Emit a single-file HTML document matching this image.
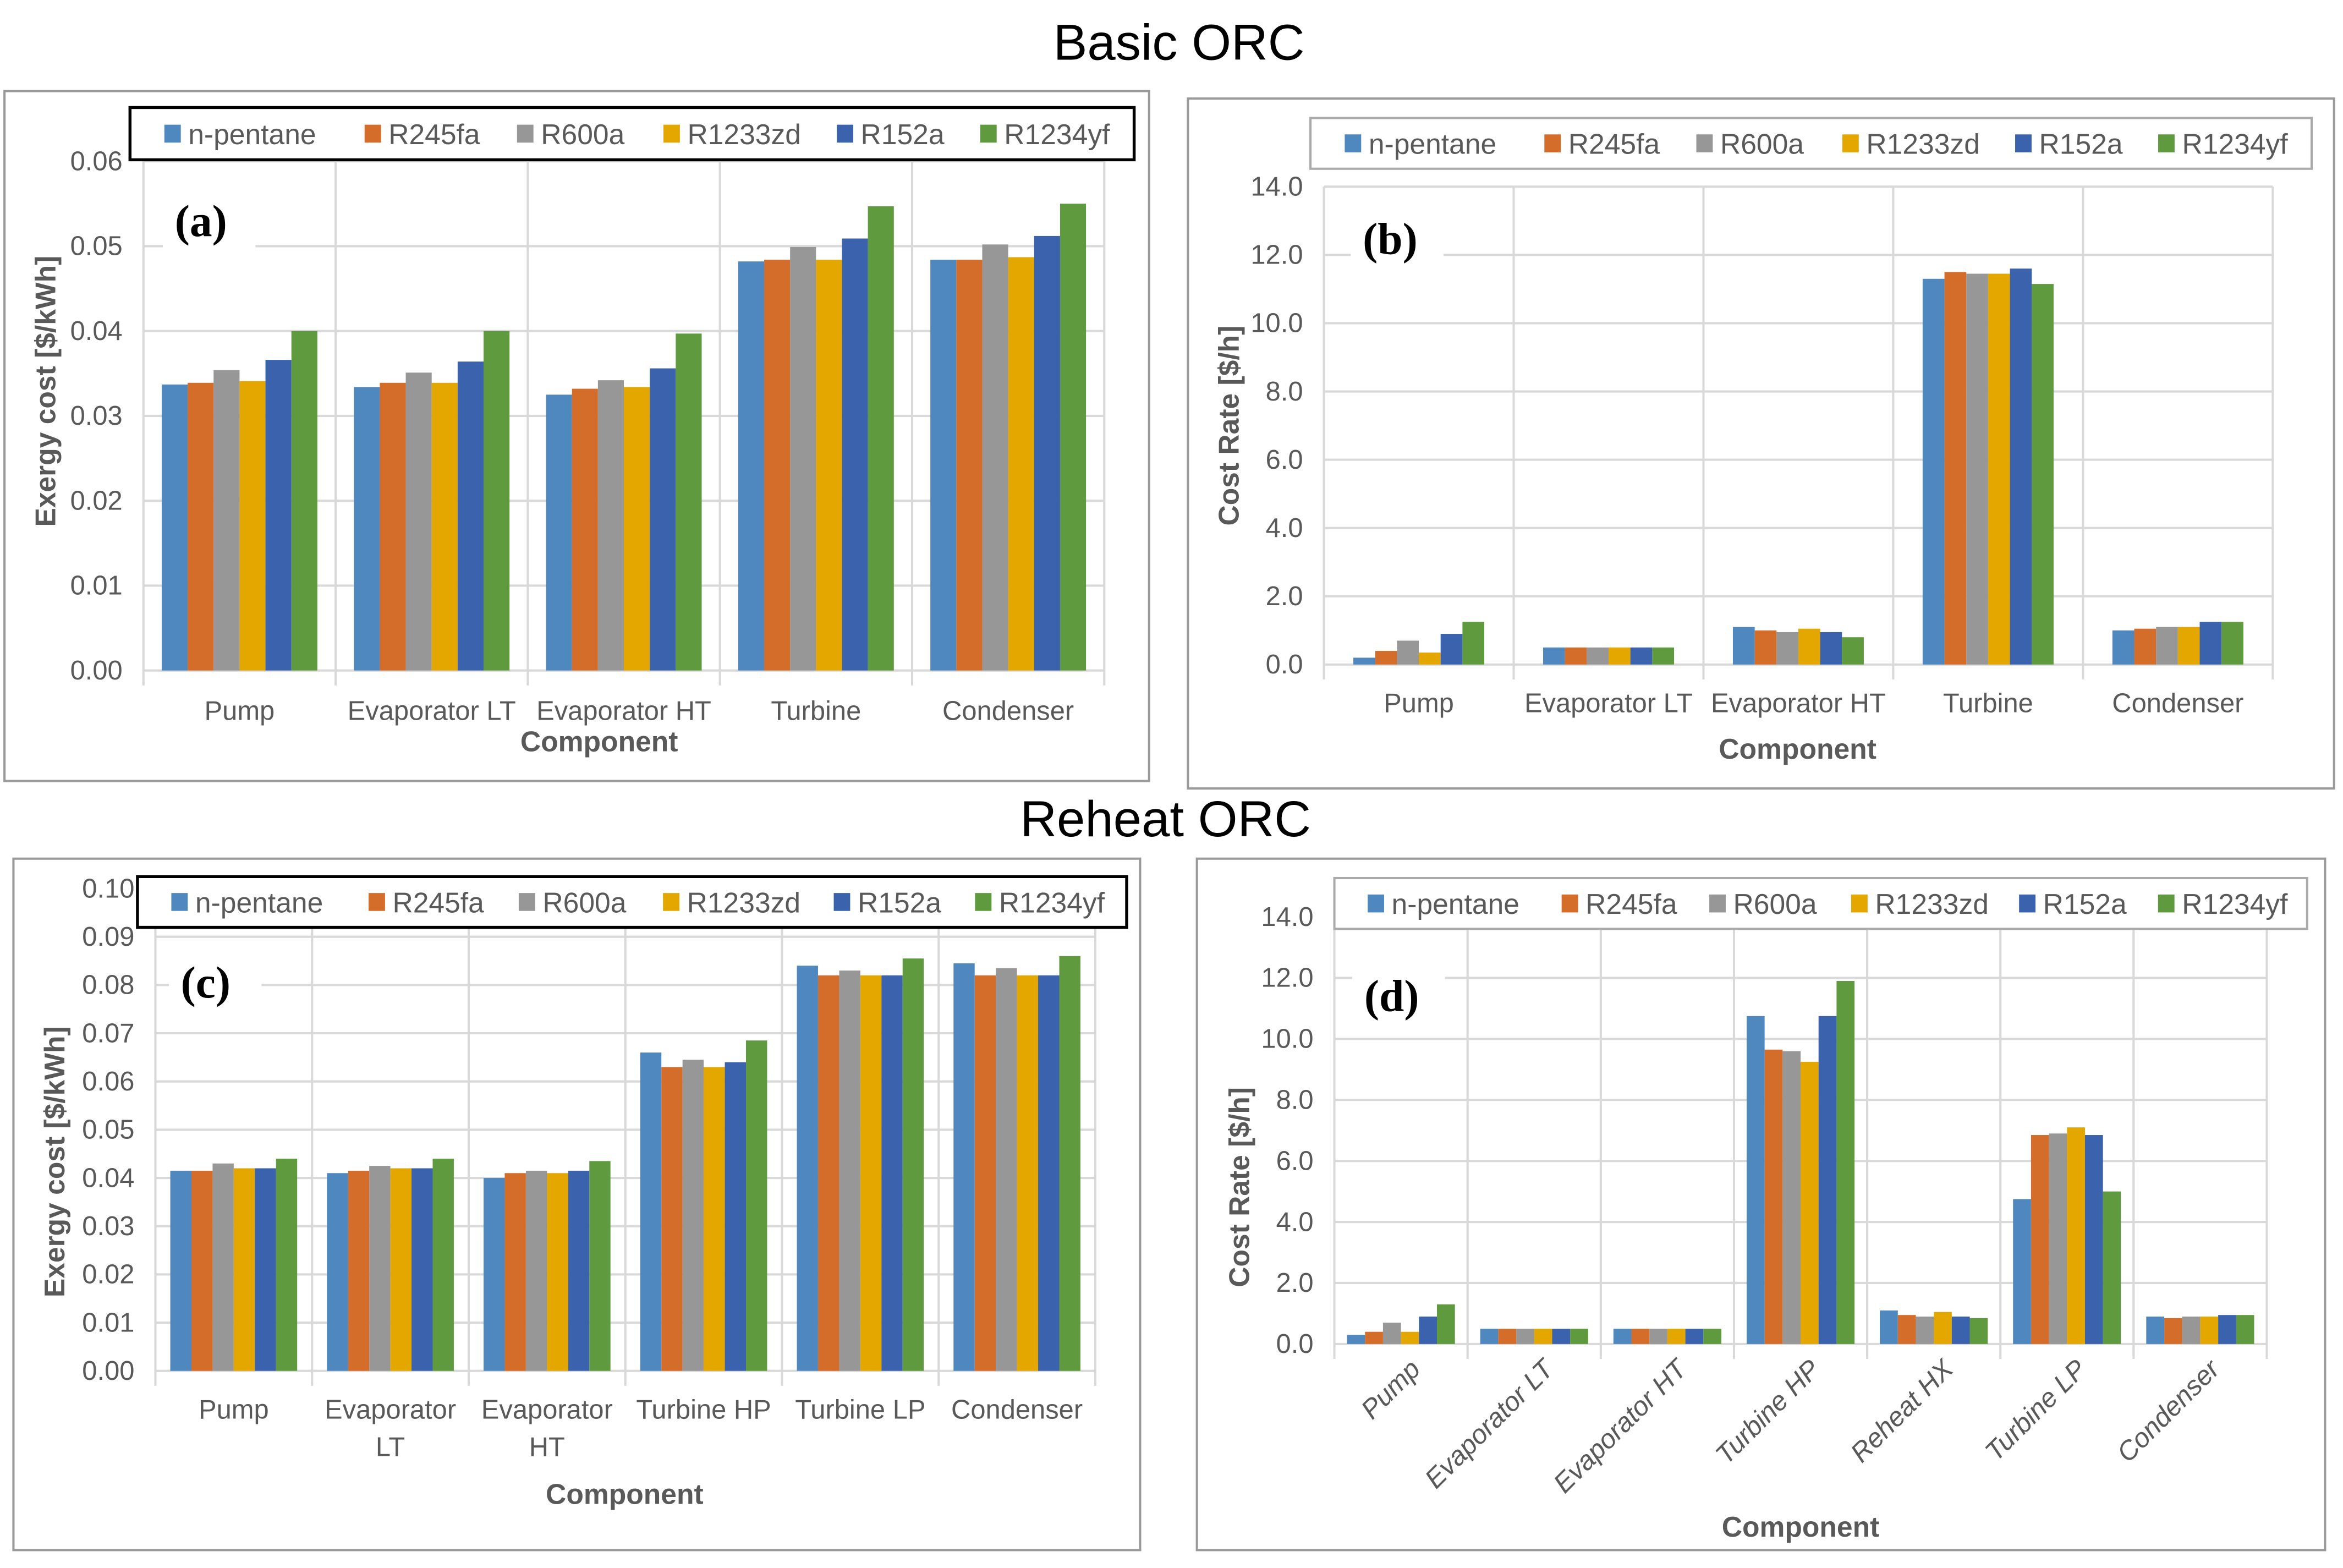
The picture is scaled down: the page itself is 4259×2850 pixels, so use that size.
<!DOCTYPE html>
<html><head><meta charset="utf-8"><style>
html,body{margin:0;padding:0;background:#fff;}
svg{display:block;}
text{font-family:"Liberation Sans Narrow","Liberation Sans",sans-serif;fill:#595959;}
</style></head><body>
<svg id="fig" width="4259" height="2850" viewBox="0 0 1568 1050" preserveAspectRatio="none" xmlns="http://www.w3.org/2000/svg">
<text x="789" y="40" font-size="34" text-anchor="middle" style="fill:#000">Basic ORC</text>
<text x="780" y="560" font-size="34" text-anchor="middle" style="fill:#000">Reheat ORC</text>
</svg>
<script>
const seriesNames = ["n-pentane","R245fa","R600a","R1233zd","R152a","R1234yf"];
const colors = ["#4F87BF","#D46D2A","#979797","#E3A700","#3B62AD","#5F9B3E"];

const catsA = ["Pump","Evaporator LT","Evaporator HT","Turbine","Condenser"];
const valsA = [
 [0.0337,0.0339,0.0354,0.0341,0.0366,0.0400],
 [0.0334,0.0339,0.0351,0.0339,0.0364,0.0400],
 [0.0325,0.0332,0.0342,0.0334,0.0356,0.0397],
 [0.0482,0.0484,0.0499,0.0484,0.0509,0.0547],
 [0.0484,0.0484,0.0502,0.0487,0.0512,0.0550]];
const ticksA = ["0.00","0.01","0.02","0.03","0.04","0.05","0.06"];

const catsB = ["Pump","Evaporator LT","Evaporator HT","Turbine","Condenser"];
const valsB = [
 [0.2,0.4,0.7,0.35,0.9,1.25],
 [0.5,0.5,0.5,0.5,0.5,0.5],
 [1.1,1.0,0.95,1.05,0.95,0.8],
 [11.3,11.5,11.45,11.45,11.6,11.15],
 [1.0,1.05,1.1,1.1,1.25,1.25]];
const ticksB = ["0.0","2.0","4.0","6.0","8.0","10.0","12.0","14.0"];

const catsC = [["Pump"],["Evaporator","LT"],["Evaporator","HT"],["Turbine HP"],["Turbine  LP"],["Condenser"]];
const valsC = [
 [0.0415,0.0415,0.0430,0.0420,0.0420,0.0440],
 [0.0410,0.0415,0.0425,0.0420,0.0420,0.0440],
 [0.0400,0.0410,0.0415,0.0410,0.0415,0.0435],
 [0.0660,0.0630,0.0645,0.0630,0.0640,0.0685],
 [0.0840,0.0820,0.0830,0.0820,0.0820,0.0855],
 [0.0845,0.0820,0.0835,0.0820,0.0820,0.0860]];
const ticksC = ["0.00","0.01","0.02","0.03","0.04","0.05","0.06","0.07","0.08","0.09","0.10"];

const catsD = ["Pump","Evaporator LT","Evaporator HT","Turbine HP","Reheat HX","Turbine  LP","Condenser"];
const valsD = [
 [0.3,0.4,0.7,0.4,0.9,1.3],
 [0.5,0.5,0.5,0.5,0.5,0.5],
 [0.5,0.5,0.5,0.5,0.5,0.5],
 [10.75,9.65,9.6,9.25,10.75,11.9],
 [1.1,0.95,0.9,1.05,0.9,0.85],
 [4.75,6.85,6.9,7.1,6.85,5.0],
 [0.9,0.85,0.9,0.9,0.95,0.95]];
const ticksD = ["0.0","2.0","4.0","6.0","8.0","10.0","12.0","14.0"];

const NS="http://www.w3.org/2000/svg";
const svg=document.getElementById('fig');
function mk(tag,attrs,parent){const e=document.createElementNS(NS,tag);for(const k in attrs)e.setAttribute(k,attrs[k]);(parent||svg).appendChild(e);return e;}

function drawChart(c){
  const g=mk('g',{});
  
  
  const frame=mk('rect',{x:c.box[0],y:c.box[1],width:c.box[2]-c.box[0],height:c.box[3]-c.box[1],fill:'#fff',stroke:'#9a9a9a','stroke-width':1.5},g);
  
  
  const x0=c.plot[0],x1=c.plot[1],y0=c.plot[2],y1=c.plot[3];
  const n=c.ticks.length-1;
  const ymin=parseFloat(c.ticks[0]),ymax=parseFloat(c.ticks[n]);
  const yS=v=>y0-(v-ymin)/(ymax-ymin)*(y0-y1);
  const nc=c.cats.length, cw=(x1-x0)/nc;
  c.ticks.forEach((t,i)=>{
    const y=yS(parseFloat(t));
    const ln=mk('line',{x1:x0,x2:x1,y1:y,y2:y,stroke:'#d9d9d9','stroke-width':1.5},g);
    
    
    const tx=mk('text',{x:x0-14,y:y+6,'font-size':18,'text-anchor':'end'},g);
    tx.textContent=t;
    
    
  });
  for(let i=0;i<=nc;i++){
    const x=x0+i*cw;
    const ln=mk('line',{x1:x,x2:x,y1:y1,y2:y0+10,stroke:'#d9d9d9','stroke-width':1.5},g);
    
    
  }
  const gw=cw*c.groupFrac, bw=gw/6;
  c.vals.forEach((row,ci)=>{
    row.forEach((v,si)=>{
      const x=x0+ci*cw+(cw-gw)/2+si*bw;
      const y=yS(v);
      const r=mk('rect',{x:x,y:y,width:bw,height:y0-y,fill:colors[si]},g);
      
      
    });
  });
  c.cats.forEach((cat,ci)=>{
    const cx=x0+(ci+0.5)*cw;
    if(c.rotate){
      const tx=mk('text',{x:0,y:0,'font-size':18,'text-anchor':'end','font-style':'italic',transform:'translate('+(cx+14)+','+c.labY+') rotate(-45)'},g);
      tx.textContent=cat;
      
      
    } else {
      const lines=Array.isArray(cat)?cat:[cat];
      lines.forEach((l,li)=>{
        const tx=mk('text',{x:cx,y:c.labY+li*25,'font-size':18,'text-anchor':'middle'},g);
        tx.textContent=l;
        
        
      });
    }
  });
  const xt=mk('text',{x:c.xTitle[0],y:c.xTitle[1],'font-size':19,'font-weight':'bold','text-anchor':'middle'},g);
  xt.textContent='Component';
  
  
  const yt=mk('text',{x:0,y:0,'font-size':19,'font-weight':'bold','text-anchor':'middle',transform:'translate('+c.yTitle[0]+','+c.yTitle[1]+') rotate(-90)',style:'font-family:"Liberation Sans",sans-serif'},g);
  yt.textContent=c.yLabel;
  
  
  const pl=mk('rect',{x:c.letter[0]-8,y:c.letter[1]-30,width:62,height:42,fill:'#fff'},g);
  
  
  const lt=mk('text',{x:c.letter[0],y:c.letter[1],'font-size':30,'font-weight':'bold',style:'font-family:"Liberation Serif",serif;fill:#000'},g);
  lt.textContent='('+c.id+')';
  
  
  const L=c.legend;
  const lb=mk('rect',{x:L[0],y:L[1],width:L[2]-L[0],height:L[3]-L[1],fill:'#fff',stroke:c.legendStroke,'stroke-width':c.legendStroke==='#000'?2:1.5},g);
  
  
  const offs=[23,157,259,357,473,569];
  const sc=(L[2]-L[0])/672, my=(L[1]+L[3])/2;
  seriesNames.forEach((s,si)=>{
    const lx=L[0]+offs[si]*sc;
    const sq=mk('rect',{x:lx,y:my-6,width:11,height:12,fill:colors[si]},g);
    
    
    const tx=mk('text',{x:lx+16,y:my+7,'font-size':19},g);
    tx.textContent=s;
    
    
  });
}

drawChart({id:'a',box:[3,61,769,523],plot:[96,739,449,108],ticks:ticksA,cats:catsA,vals:valsA,groupFrac:0.81,labY:482,xTitle:[401,503],yTitle:[37,262],yLabel:'Exergy cost [$/kWh]',letter:[117,158],legend:[87,72,759,107],legendStroke:'#000'});
drawChart({id:'b',box:[795,66,1562,528],plot:[886,1521,445,125],ticks:ticksB,cats:catsB,vals:valsB,groupFrac:0.69,labY:477,xTitle:[1203,508],yTitle:[829,285],yLabel:'Cost  Rate [$/h]',letter:[912,170],legend:[877,79,1547,113],legendStroke:'#aaa'});
drawChart({id:'c',box:[9,575,763,1038],plot:[104,733,918,595],ticks:ticksC,cats:catsC,vals:valsC,groupFrac:0.81,labY:950,xTitle:[418,1007],yTitle:[43,778],yLabel:'Exergy cost [$/kWh]',letter:[121,668],legend:[92,587,754,621],legendStroke:'#000'});
drawChart({id:'d',box:[801,575,1556,1038],plot:[893,1517,900,614],ticks:ticksD,cats:catsD,vals:valsD,groupFrac:0.81,rotate:true,labY:918,xTitle:[1205,1029],yTitle:[836,795],yLabel:'Cost  Rate [$/h]',letter:[913,677],legend:[893,588,1544,622],legendStroke:'#aaa'});
</script>
</body></html>
